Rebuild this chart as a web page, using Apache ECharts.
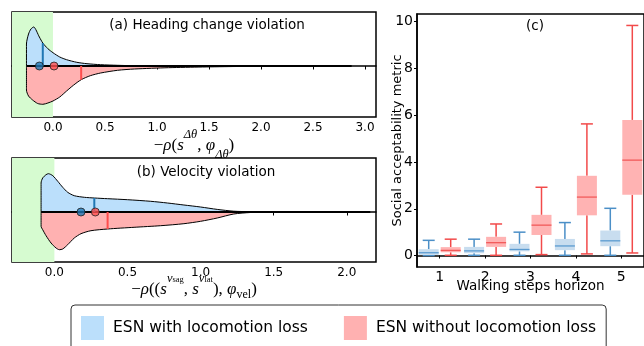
<!DOCTYPE html>
<html>
<head>
<meta charset="utf-8">
<script src="https://cdn.jsdelivr.net/npm/echarts@6/dist/echarts.min.js"></script>
<style>
html, body { margin: 0; padding: 0; background: #fff; }
#chart { width: 644px; height: 346px; }
</style>
</head>
<body>
<div id="chart"></div>
<script>
// (a) heading change violation - half violin outlines
var headingWithX = [-0.255, -0.255, -0.235, -0.212, -0.186, -0.131, -0.098, -0.049, 0, 0.065, 0.131, 0.229, 0.327, 0.458, 0.621, 0.784, 1.2, 1.8, 2.4, 2.87];
var headingWithH = [0, 22, 32, 37, 39, 29, 23, 17.3, 13.3, 9, 6.3, 3.7, 2.3, 1.3, 0.7, 0.3, 0.15, 0.08, 0.04, 0];
var headingWithoutX = [-0.255, -0.255, -0.235, -0.196, -0.147, -0.098, -0.049, 0, 0.065, 0.131, 0.196, 0.271, 0.359, 0.458, 0.621, 0.784, 1.111, 1.438, 1.765, 2.09, 2.5, 2.87];
var headingWithoutH = [0, 24, 30, 34, 37.5, 38.3, 37, 35, 31, 25, 19.3, 13.7, 9.7, 7, 4.3, 3, 1.7, 1, 0.5, 0.3, 0.1, 0];
var headingMedian = [-0.131, 0.01];          // dots: with, without
var headingMeanX = [-0.098, 0.271];          // vertical bars: with, without
var headingMeanH = [23, 13.7];
var headingTicks = [0, 0.5, 1.0, 1.5, 2.0, 2.5, 3.0];

// (b) velocity violation
var velocityWithX = [-0.091, -0.091, -0.080, -0.057, -0.041, -0.011, 0.023, 0.057, 0.091, 0.136, 0.205, 0.273, 0.364, 0.5, 0.659, 0.773, 0.886, 1.0, 1.114, 1.227, 1.341, 1.455, 1.8, 2.16];
var velocityWithH = [0, 29, 34, 37.3, 38.3, 36.3, 30.7, 24.7, 19.7, 16.3, 14.7, 14, 13.3, 12.3, 10.7, 9, 7, 5, 2.6, 0.8, 0.3, 0.1, 0.05, 0];
var velocityWithoutX = [-0.091, -0.091, -0.080, -0.057, -0.023, 0.011, 0.034, 0.057, 0.091, 0.136, 0.182, 0.25, 0.364, 0.545, 0.727, 0.886, 1.0, 1.114, 1.227, 1.341, 1.455, 1.8, 2.16];
var velocityWithoutH = [0, 14.3, 17.7, 23.7, 31, 36, 37.7, 37, 32.7, 26, 21.7, 18.7, 17, 15.3, 13.7, 11.7, 9.3, 6, 2, 0.5, 0.1, 0.05, 0];
var velocityMedian = [0.182, 0.28];
var velocityMeanX = [0.273, 0.364];
var velocityMeanH = [14, 17];
var velocityTicks = [0, 0.5, 1.0, 1.5, 2.0];

// (c) social acceptability metric, box stats [min, q1, median, q3, max]
var horizon = ['1', '2', '3', '4', '5'];
var withLoco = [
  [0.0, 0.03, 0.12, 0.27, 0.65],
  [0.01, 0.1, 0.2, 0.37, 0.7],
  [0.01, 0.18, 0.26, 0.5, 1.0],
  [0.01, 0.23, 0.41, 0.71, 1.41],
  [0.01, 0.4, 0.63, 1.07, 2.02]
];
var withoutLoco = [
  [0.01, 0.14, 0.22, 0.36, 0.7],
  [0.01, 0.37, 0.55, 0.8, 1.35],
  [0.04, 0.88, 1.3, 1.74, 2.92],
  [0.07, 1.72, 2.5, 3.41, 5.63],
  [0.11, 2.6, 4.08, 5.8, 9.84]
];
var metricTicks = [0, 2, 4, 6, 8, 10];

var names = ['ESN with locomotion loss', 'ESN without locomotion loss'];
var blueFill = '#bbdffb', redFill = '#ffb1b1', green = '#d6fbd0';
var FONT = 'DejaVu Sans', SERIF = 'Liberation Serif';

function zip(xs, hs, sign) {
  return xs.map(function (x, i) { return [x, sign * hs[i]]; });
}

function violinSeries(idx, withX, withH, withoutX, withoutH, median, meanX, meanH) {
  var xmin = Math.min(withX[0], withoutX[0]);
  var xmax = Math.max(withX[withX.length - 1], withoutX[withoutX.length - 1]);
  var common = { xAxisIndex: idx, yAxisIndex: idx, symbol: 'none', silent: true, animation: false };
  var out = [];
  out.push(Object.assign({
    type: 'line', name: 'span' + idx, data: [],
    markArea: { silent: true, itemStyle: { color: green }, data: [[{ xAxis: 'min' }, { xAxis: 0 }]] }
  }, common));
  out.push(Object.assign({
    type: 'line', name: 'w' + idx, z: 3, smooth: 0.25,
    data: zip(withX, withH, 1),
    lineStyle: { color: '#000', width: 1 },
    areaStyle: { color: blueFill, opacity: 1 }
  }, common));
  out.push(Object.assign({
    type: 'line', name: 'wo' + idx, z: 3, smooth: 0.25,
    data: zip(withoutX, withoutH, -1),
    lineStyle: { color: '#000', width: 1 },
    areaStyle: { color: redFill, opacity: 1 }
  }, common));
  out.push(Object.assign({
    type: 'line', name: 'c' + idx, z: 4,
    data: [[xmin, 0], [xmax, 0]],
    lineStyle: { color: '#000', width: 1.8 }
  }, common));
  out.push(Object.assign({
    type: 'line', name: 'mw' + idx, z: 5,
    data: [[meanX[0], 0], [meanX[0], meanH[0]]],
    lineStyle: { color: '#1f77b4', width: 2 }
  }, common));
  out.push(Object.assign({
    type: 'line', name: 'mwo' + idx, z: 5,
    data: [[meanX[1], 0], [meanX[1], -meanH[1]]],
    lineStyle: { color: '#ff4d4d', width: 2 }
  }, common));
  out.push(Object.assign({}, common, {
    type: 'scatter', name: 'd' + idx, z: 6, symbol: 'circle', symbolSize: 8,
    data: [
      { value: [median[0], 0], itemStyle: { color: '#1f77b4' } },
      { value: [median[1], 0], itemStyle: { color: '#ff5050' } }
    ],
    itemStyle: { borderColor: '#222', borderWidth: 1 }
  }));
  return out;
}

function boxRenderer(offset, fill, stroke, mid) {
  return function (params, api) {
    var cx = api.coord([api.value(0), 0])[0] + offset;
    var y = [1, 2, 3, 4, 5].map(function (d) { return api.coord([0, api.value(d)])[1]; });
    var half = 10, cap = 6, lw = 1.5;
    var ls = { stroke: stroke, lineWidth: lw };
    return {
      type: 'group',
      children: [
        { type: 'line', shape: { x1: cx, y1: y[0], x2: cx, y2: y[1] }, style: ls },
        { type: 'line', shape: { x1: cx, y1: y[3], x2: cx, y2: y[4] }, style: ls },
        { type: 'line', shape: { x1: cx - cap, y1: y[0], x2: cx + cap, y2: y[0] }, style: ls },
        { type: 'line', shape: { x1: cx - cap, y1: y[4], x2: cx + cap, y2: y[4] }, style: ls },
        { type: 'rect', shape: { x: cx - half, y: y[3], width: 2 * half, height: y[1] - y[3] }, style: { fill: fill } },
        { type: 'line', shape: { x1: cx - half, y1: y[2], x2: cx + half, y2: y[2] }, style: { stroke: mid, lineWidth: 1.3 } }
      ]
    };
  };
}

function tickAxis(idx, min, max, ticks, nameRich, rich, gap) {
  return {
    gridIndex: idx, type: 'value', min: min, max: max,
    axisLine: { show: true, lineStyle: { color: '#000', width: 1.5 } },
    axisTick: { show: true, customValues: ticks, length: 3.5, lineStyle: { color: '#000', width: 1 } },
    axisLabel: {
      customValues: ticks, color: '#000', fontSize: 12, fontFamily: FONT, margin: 5,
      formatter: function (v) { return v.toFixed(1); }
    },
    splitLine: { show: false },
    name: nameRich, nameLocation: 'middle', nameGap: gap, nameMoveOverlap: false,
    nameTextStyle: { rich: rich }
  };
}

var mathRich = {
  m: { fontFamily: SERIF, fontSize: 17, color: '#000' },
  i: { fontFamily: SERIF, fontStyle: 'italic', fontSize: 17, color: '#000' },
  sup: { fontFamily: SERIF, fontStyle: 'italic', fontSize: 12.5, color: '#000', padding: [0, 0, 22, 0] },
  ss: { fontFamily: SERIF, fontSize: 8.5, color: '#000', padding: [0, 0, 19, 0] },
  sub: { fontFamily: SERIF, fontStyle: 'italic', fontSize: 12.5, color: '#000', padding: [18, 0, 0, 0] },
  subr: { fontFamily: SERIF, fontSize: 12, color: '#000', padding: [10, 0, 0, 0] }
};
var nameA = '{m|\u2212}{i|\u03c1}{m|(}{i|s}{sup|\u0394\u03b8}{m|, }{i|\u03c6}{sub|\u0394\u03b8}{m|)}';
var nameB = '{m|\u2212}{i|\u03c1}{m|((}{i|s}{sup|v}{ss|sag}{m|, }{i|s}{sup|v}{ss|lat}{m|), }{i|\u03c6}{subr|vel}{m|)}';

var chart = echarts.init(document.getElementById('chart'), null, { renderer: 'canvas' });

var series = []
  .concat(violinSeries(0, headingWithX, headingWithH, headingWithoutX, headingWithoutH, headingMedian, headingMeanX, headingMeanH))
  .concat(violinSeries(1, velocityWithX, velocityWithH, velocityWithoutX, velocityWithoutH, velocityMedian, velocityMeanX, velocityMeanH));

series.push({
  type: 'custom', name: names[0], xAxisIndex: 2, yAxisIndex: 2, animation: false,
  itemStyle: { color: blueFill },
  renderItem: boxRenderer(-11, '#c8ddef', '#4b8fc7', '#5b9bd0'),
  encode: { x: 0, y: [1, 2, 3, 4, 5] },
  data: withLoco.map(function (d, i) { return [i].concat(d); })
});
series.push({
  type: 'custom', name: names[1], xAxisIndex: 2, yAxisIndex: 2, animation: false,
  itemStyle: { color: redFill },
  renderItem: boxRenderer(11, '#ffb3b3', '#f24a4a', '#f25a5a'),
  encode: { x: 0, y: [1, 2, 3, 4, 5] },
  data: withoutLoco.map(function (d, i) { return [i].concat(d); })
});

var option = {
  animation: false,
  textStyle: { fontFamily: FONT },
  grid: [
    { left: 12, top: 12, width: 364, height: 105, show: true, borderColor: '#000', borderWidth: 1.5, containLabel: false },
    { left: 12, top: 158, width: 364, height: 104, show: true, borderColor: '#000', borderWidth: 1.5, containLabel: false },
    { left: 417, top: 14, width: 228, height: 253, show: true, borderColor: '#000', borderWidth: 1.5, containLabel: false }
  ],
  xAxis: [
    tickAxis(0, -0.394, 3.106, headingTicks, nameA, mathRich, 11),
    tickAxis(1, -0.29, 2.2, velocityTicks, nameB, mathRich, 10),
    {
      gridIndex: 2, type: 'category', data: horizon,
      axisLine: { lineStyle: { color: '#000', width: 1.5 } },
      axisTick: { show: true, alignWithLabel: true, length: 3, lineStyle: { color: '#000' } },
      axisLabel: { color: '#000', fontSize: 14, fontFamily: FONT, margin: 3 },
      name: 'Walking steps horizon', nameLocation: 'middle', nameGap: 12, nameMoveOverlap: false,
      nameTextStyle: { color: '#000', fontSize: 13.5, fontFamily: FONT }
    }
  ],
  yAxis: [
    { gridIndex: 0, type: 'value', min: -51, max: 54, show: false },
    { gridIndex: 1, type: 'value', min: -50, max: 54, show: false },
    {
      gridIndex: 2, type: 'value', min: -0.49, max: 10.33,
      axisLine: { show: true, lineStyle: { color: '#000', width: 1.5 } },
      axisTick: { show: true, customValues: metricTicks, length: 3, lineStyle: { color: '#000' } },
      axisLabel: { customValues: metricTicks, color: '#000', fontSize: 14, fontFamily: FONT, margin: 4 },
      splitLine: { show: false },
      name: 'Social acceptability metric', nameLocation: 'middle', nameGap: 13, nameMoveOverlap: false,
      nameTextStyle: { color: '#000', fontSize: 13, fontFamily: FONT }
    }
  ],
  legend: {
    left: 71, top: 305, padding: [11, 10, 11, 10],
    itemWidth: 23, itemHeight: 24, itemGap: 36, icon: 'rect',
    borderColor: '#333', borderWidth: 1, borderRadius: 4,
    itemStyle: { borderWidth: 0 },
    textStyle: { color: '#000', fontSize: 15.5, fontFamily: FONT, padding: [0, 0, 0, 4] },
    data: [
      { name: names[0], itemStyle: { color: blueFill, borderWidth: 0 } },
      { name: names[1], itemStyle: { color: redFill, borderWidth: 0 } }
    ]
  },
  graphic: [
    { type: 'text', x: 207, y: 25, z: 100, style: { text: '(a) Heading change violation', fontSize: 13.5, fontFamily: FONT, fill: '#000', align: 'center', verticalAlign: 'middle' } },
    { type: 'text', x: 206, y: 172, z: 100, style: { text: '(b) Velocity violation', fontSize: 13.5, fontFamily: FONT, fill: '#000', align: 'center', verticalAlign: 'middle' } },
    { type: 'text', x: 535, y: 26, z: 100, style: { text: '(c)', fontSize: 13.5, fontFamily: FONT, fill: '#000', align: 'center', verticalAlign: 'middle' } }
  ],
  series: series
};

chart.setOption(option);
</script>
</body>
</html>
